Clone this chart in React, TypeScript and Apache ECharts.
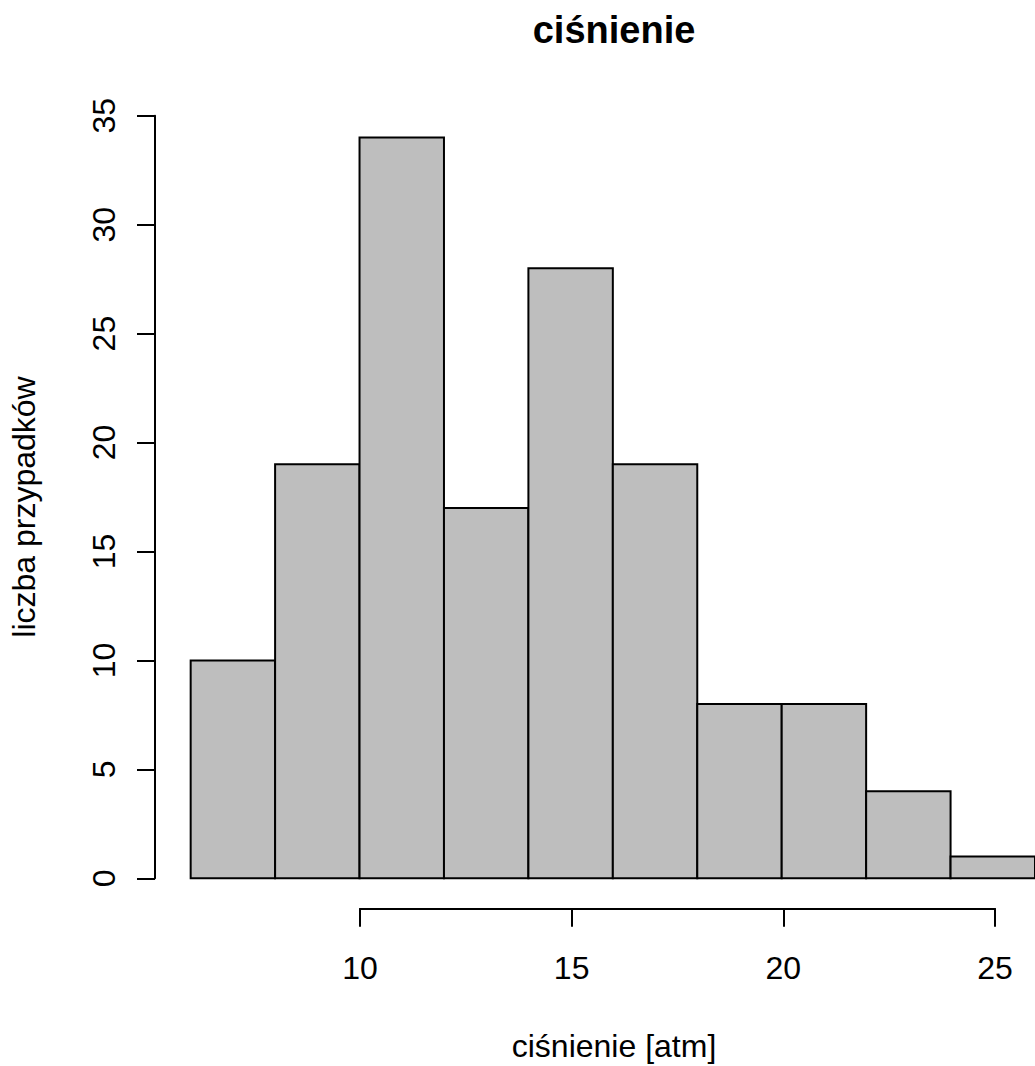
import React, { useEffect, useRef } from "react";
import * as echarts from "echarts";

const breaks = [6, 8, 10, 12, 14, 16, 18, 20, 22, 24, 26];
const counts = [10, 19, 34, 17, 28, 19, 8, 8, 4, 1];
const xTicks = [10, 15, 20, 25];
const yTicks = [0, 5, 10, 15, 20, 25, 30, 35];
const titleText = "ciśnienie";
const xLabel = "ciśnienie [atm]";
const yLabel = "liczba przypadków";

const FONT = '"Liberation Sans", Arial, Helvetica, sans-serif';

export default function App() {
  const ref = useRef<HTMLDivElement>(null);
  useEffect(() => {
    if (!ref.current) return;
    const chart = echarts.init(ref.current, undefined, { renderer: "svg" });
    const pxPerUnitX = 635 / 15;
    const gridLeft = 360 - (10 - breaks[0]) * pxPerUnitX;
    const gridWidth = (breaks[breaks.length - 1] - breaks[0]) * pxPerUnitX;
    const data = counts.map((c, i) => [breaks[i], breaks[i + 1], c]);
    chart.setOption({
      animation: false,
      backgroundColor: "#ffffff",
      textStyle: { fontFamily: FONT },
      grid: [
        { left: gridLeft, width: gridWidth, top: 115.7, height: 762.6 },
        { left: 360, width: 635, top: 800, height: 108.3 },
      ],
      xAxis: [
        {
          type: "value",
          gridIndex: 0,
          min: breaks[0],
          max: breaks[breaks.length - 1],
          axisLine: { show: false },
          axisTick: { show: false },
          axisLabel: { show: false },
          splitLine: { show: false },
        },
        {
          type: "value",
          gridIndex: 1,
          min: xTicks[0],
          max: xTicks[xTicks.length - 1],
          interval: 5,
          axisLine: { show: true, lineStyle: { color: "#000", width: 2 } },
          axisTick: { show: true, inside: false, length: 18.4, lineStyle: { color: "#000", width: 2 } },
          axisLabel: { show: true, margin: 44, color: "#000", fontSize: 32, fontFamily: FONT },
          splitLine: { show: false },
        },
      ],
      yAxis: [
        {
          type: "value",
          gridIndex: 0,
          min: yTicks[0],
          max: yTicks[yTicks.length - 1],
          interval: 5,
          offset: gridLeft - 155,
          axisLine: { show: true, lineStyle: { color: "#000", width: 2 } },
          axisTick: { show: true, inside: false, length: 18, lineStyle: { color: "#000", width: 2 } },
          axisLabel: { show: true, rotate: 90, margin: 35, color: "#000", fontSize: 32, fontFamily: FONT },
          splitLine: { show: false },
        },
        {
          type: "value",
          gridIndex: 1,
          show: false,
        },
      ],
      series: [
        {
          type: "custom",
          xAxisIndex: 0,
          yAxisIndex: 0,
          data,
          encode: { x: [0, 1], y: 2 },
          renderItem: (params: any, api: any) => {
            const p0 = api.coord([api.value(0), api.value(2)]);
            const p1 = api.coord([api.value(1), 0]);
            return {
              type: "rect",
              shape: { x: p0[0], y: p0[1], width: p1[0] - p0[0], height: p1[1] - p0[1] },
              style: { fill: "#BEBEBE", stroke: "#000000", lineWidth: 2 },
            };
          },
        },
      ],
      graphic: [
        {
          type: "text",
          x: 614,
          y: 30,
          style: {
            text: titleText,
            font: `bold 38px ${FONT}`,
            fill: "#000",
            align: "center",
            verticalAlign: "middle",
            textAlign: "center",
            textVerticalAlign: "middle",
          },
        },
        {
          type: "text",
          x: 614,
          y: 1046,
          style: {
            text: xLabel,
            font: `32px ${FONT}`,
            fill: "#000",
            align: "center",
            verticalAlign: "middle",
            textAlign: "center",
            textVerticalAlign: "middle",
          },
        },
        {
          type: "text",
          x: 24,
          y: 507,
          rotation: Math.PI / 2,
          style: {
            text: yLabel,
            font: `32px ${FONT}`,
            fill: "#000",
            align: "center",
            verticalAlign: "middle",
            textAlign: "center",
            textVerticalAlign: "middle",
          },
        },
      ],
    });
    return () => chart.dispose();
  }, []);
  return (
    <div
      ref={ref}
      style={{ position: "absolute", left: 0, top: 0, width: 1035, height: 1066, background: "#fff" }}
    />
  );
}
